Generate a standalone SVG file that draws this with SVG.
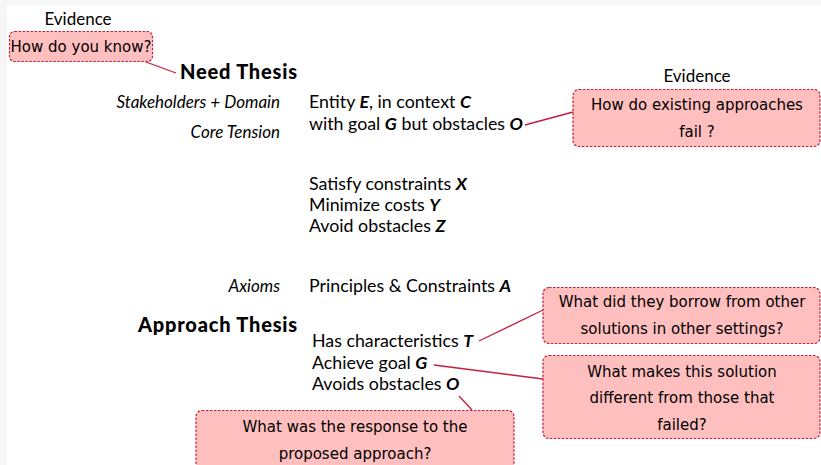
<svg xmlns="http://www.w3.org/2000/svg" width="821" height="465" viewBox="0 0 821 465">
<style>
.t{font-family:Lato,"Noto Sans","Liberation Sans",sans-serif;font-size:17.8px;fill:#000}
.i{font-family:Lato,"Noto Sans","Liberation Sans",sans-serif;font-size:17px;font-style:italic;fill:#000;text-anchor:end}
.b{font-weight:bold;font-style:italic}
.h{font-family:Lato,"Noto Sans","Liberation Sans",sans-serif;font-size:20px;font-weight:900;fill:#000;letter-spacing:0.8px}
.q{font-family:"DejaVu Sans",sans-serif;font-size:15px;fill:#000;text-anchor:middle}
.box{fill:#ffbfbf;stroke:#c41e3a;stroke-width:1.2;stroke-dasharray:2.5 1.5}
.c{stroke:#c41e3a;stroke-width:1.3;fill:none}
.ev{font-family:Lato,"Noto Sans","Liberation Sans",sans-serif;font-size:17px;fill:#000;text-anchor:middle}
</style>
<rect width="821" height="465" fill="#f6f6f6"/>
<rect x="7" y="5" width="814" height="460" fill="#ffffff"/>
<g id="connectors">
<line class="c" x1="146" y1="62" x2="176" y2="73"/>
<line class="c" x1="525" y1="125" x2="573" y2="112"/>
<line class="c" x1="479" y1="341" x2="543" y2="310"/>
<line class="c" x1="434" y1="365" x2="543" y2="379"/>
<line class="c" x1="459" y1="396" x2="472" y2="410"/>
</g>
<g id="ev1">
<text class="ev" x="78" y="25">Evidence</text>
<rect class="box" x="9.5" y="31.5" width="143" height="30" rx="5"/>
<text class="q" x="81" y="52">How do you know?</text>
</g>
<g id="need">
<text class="h" x="180" y="79">Need Thesis</text>
</g>
<g id="labels">
<text class="i" x="280" y="108">Stakeholders + Domain</text>
<text class="i" x="280" y="138">Core Tension</text>
<text class="i" x="280" y="292">Axioms</text>
</g>
<g id="need-body">
<text class="t" x="309" y="108">Entity <tspan class="b">E</tspan>, in context <tspan class="b">C</tspan></text>
<text class="t" x="309" y="130">with goal <tspan class="b">G</tspan> but obstacles <tspan class="b">O</tspan></text>
<text class="t" x="309" y="190">Satisfy constraints <tspan class="b">X</tspan></text>
<text class="t" x="309" y="211">Minimize costs <tspan class="b">Y</tspan></text>
<text class="t" x="309" y="232">Avoid obstacles <tspan class="b">Z</tspan></text>
<text class="t" x="309" y="292">Principles &amp; Constraints <tspan class="b">A</tspan></text>
</g>
<g id="ev2">
<text class="ev" x="697" y="82">Evidence</text>
<rect class="box" x="573" y="89.5" width="247" height="57" rx="6"/>
<text class="q" x="697" y="110">How do existing approaches</text>
<text class="q" x="697" y="137">fail ?</text>
</g>
<g id="approach">
<text class="h" x="138" y="332">Approach Thesis</text>
<text class="t" x="312" y="347">Has characteristics <tspan class="b">T</tspan></text>
<text class="t" x="312" y="369">Achieve goal <tspan class="b">G</tspan></text>
<text class="t" x="312" y="390">Avoids obstacles <tspan class="b">O</tspan></text>
</g>
<g id="q-borrow">
<rect class="box" x="543" y="287.5" width="277" height="56" rx="6"/>
<text class="q" x="682" y="307">What did they borrow from other</text>
<text class="q" x="682" y="334">solutions in other settings?</text>
</g>
<g id="q-different">
<rect class="box" x="543" y="355.5" width="277" height="83" rx="6"/>
<text class="q" x="682" y="377">What makes this solution</text>
<text class="q" x="682" y="403">different from those that</text>
<text class="q" x="682" y="430">failed?</text>
</g>
<g id="q-response">
<rect class="box" x="196" y="410.5" width="318" height="62" rx="6"/>
<text class="q" x="355" y="432">What was the response to the</text>
<text class="q" x="355" y="459">proposed approach?</text>
</g>
</svg>
